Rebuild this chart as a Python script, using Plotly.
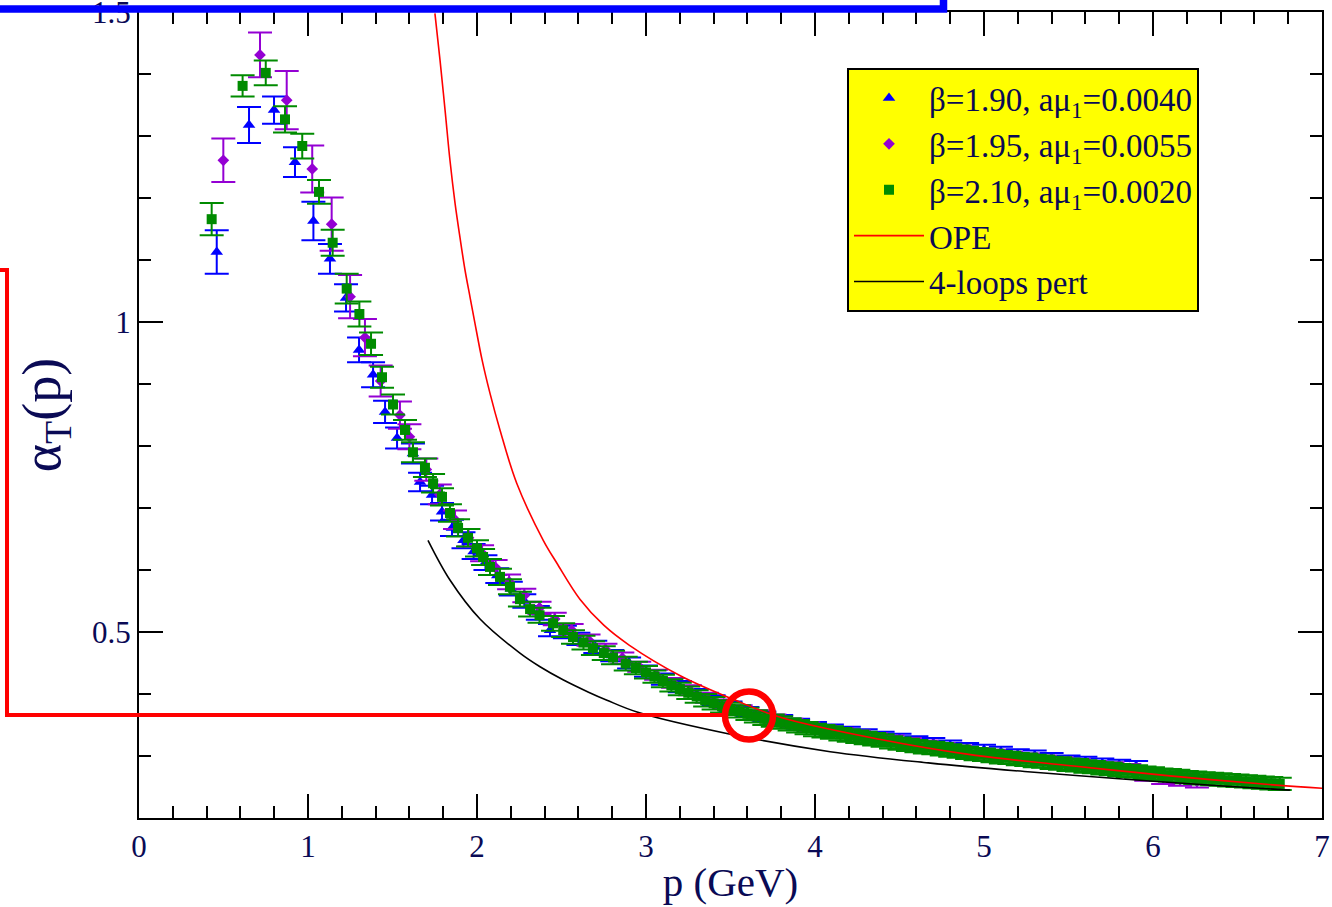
import plotly.graph_objects as go

# ---------------- data ----------------
# beta=1.90, a mu_1=0.0040 (blue triangles)
b190_p = [0.46, 0.651, 0.799, 0.923, 1.032, 1.130, 1.225, 1.302, 1.385, 1.456, 1.527, 1.621, 1.663,
          1.734, 1.793, 1.852, 1.92, 1.98, 2.05, 2.12, 2.20, 2.28, 2.36, 2.432, 2.52, 2.60, 2.70,
          2.80, 2.90, 3.00, 3.10, 3.20, 3.30, 3.40, 3.50, 3.60, 3.70, 3.80, 3.90, 4.00, 4.10, 4.20,
          4.30, 4.40, 4.50, 4.60, 4.70, 4.80, 4.90, 5.00, 5.10, 5.20, 5.30, 5.40, 5.50, 5.60, 5.70,
          5.80, 5.90]
b190_a = [1.113, 1.318, 1.342, 1.258, 1.163, 1.102, 1.039, 0.955, 0.915, 0.855, 0.813, 0.788, 0.742,
          0.721, 0.694, 0.668, 0.648, 0.630, 0.612, 0.591, 0.570, 0.550, 0.531, 0.503, 0.500, 0.489,
          0.476, 0.462, 0.450, 0.437, 0.424, 0.412, 0.400, 0.390, 0.380, 0.371, 0.364, 0.358, 0.352,
          0.347, 0.343, 0.339, 0.335, 0.331, 0.328, 0.324, 0.321, 0.317, 0.313, 0.310, 0.307, 0.303,
          0.301, 0.297, 0.293, 0.291, 0.288, 0.286, 0.284]
b190_e = [0.035, 0.029, 0.022, 0.024, 0.031, 0.024, 0.022, 0.020, 0.020, 0.018, 0.017, 0.016, 0.015,
          0.015, 0.014, 0.013, 0.013, 0.012, 0.012, 0.012, 0.011, 0.011, 0.011, 0.010, 0.010, 0.010,
          0.010, 0.009, 0.009, 0.009, 0.009, 0.009, 0.008, 0.008, 0.008, 0.008, 0.008, 0.008, 0.008,
          0.008, 0.008, 0.008, 0.008, 0.008, 0.008, 0.008, 0.008, 0.008, 0.008, 0.008, 0.008, 0.008,
          0.008, 0.008, 0.008, 0.008, 0.008, 0.008, 0.008]

# beta=1.95, a mu_1=0.0055 (violet diamonds)
b195_p = [0.499, 0.716, 0.874, 1.025, 1.140, 1.249, 1.337, 1.43, 1.544, 1.60, 1.70, 1.78, 1.87, 1.95,
          2.03, 2.11, 2.19, 2.28, 2.37, 2.46, 2.56, 2.66, 2.76, 2.86, 2.96, 3.06, 3.16, 3.26, 3.36,
          3.46, 3.56, 3.66, 3.76, 3.86, 3.96, 4.06, 4.16, 4.26, 4.36, 4.46, 4.56, 4.66, 4.76, 4.86,
          4.96, 5.06, 5.16, 5.26, 5.36, 5.46, 5.56, 5.66, 5.76, 5.86, 5.96, 6.06, 6.16, 6.26]
b195_a = [1.261, 1.431, 1.358, 1.247, 1.158, 1.041, 0.975, 0.905, 0.850, 0.815, 0.762, 0.722, 0.681,
          0.652, 0.627, 0.604, 0.581, 0.559, 0.539, 0.521, 0.503, 0.487, 0.472, 0.458, 0.444, 0.431,
          0.418, 0.406, 0.394, 0.384, 0.375, 0.367, 0.360, 0.353, 0.347, 0.342, 0.338, 0.334, 0.330,
          0.326, 0.322, 0.318, 0.314, 0.310, 0.306, 0.303, 0.300, 0.297, 0.294, 0.291, 0.288, 0.285,
          0.283, 0.280, 0.270, 0.265, 0.262, 0.259]
b195_e = [0.035, 0.036, 0.047, 0.038, 0.043, 0.035, 0.030, 0.025, 0.022, 0.020, 0.018, 0.016, 0.015,
          0.014, 0.013, 0.012, 0.012, 0.011, 0.010, 0.010, 0.010, 0.009, 0.009, 0.009, 0.008, 0.008,
          0.008, 0.008, 0.008, 0.007, 0.007, 0.007, 0.007, 0.007, 0.007, 0.007, 0.007, 0.007, 0.007,
          0.007, 0.007, 0.007, 0.007, 0.007, 0.007, 0.007, 0.007, 0.007, 0.007, 0.007, 0.007, 0.007,
          0.007, 0.007, 0.010, 0.010, 0.010, 0.010]

# beta=2.10, a mu_1=0.0020 (green squares)
b210_p = [0.43, 0.613, 0.75, 0.864, 0.966, 1.065, 1.146, 1.229, 1.304, 1.373, 1.438, 1.503, 1.574,
          1.621, 1.692, 1.740, 1.793, 1.840, 1.888, 1.947, 2.00, 2.036, 2.077, 2.136, 2.195, 2.254,
          2.314, 2.37, 2.45, 2.51, 2.568, 2.63, 2.686, 2.75, 2.805, 2.88, 2.94,
          3.00, 3.05, 3.10, 3.15, 3.20, 3.25, 3.30, 3.35, 3.40, 3.45, 3.50, 3.55, 3.60, 3.65, 3.70,
          3.75, 3.80, 3.85, 3.90, 3.95, 4.00, 4.05, 4.10, 4.15, 4.20, 4.25, 4.30, 4.35, 4.40, 4.45,
          4.50, 4.55, 4.60, 4.65, 4.70, 4.75, 4.80, 4.85, 4.90, 4.95, 5.00, 5.05, 5.10, 5.15, 5.20,
          5.25, 5.30, 5.35, 5.40, 5.45, 5.50, 5.55, 5.60, 5.65, 5.70, 5.75, 5.80, 5.85, 5.90, 5.95,
          6.00, 6.05, 6.10, 6.15, 6.20, 6.25, 6.30, 6.35, 6.40, 6.45, 6.50, 6.55, 6.60, 6.65, 6.70,
          6.75]
b210_a = [1.166, 1.381, 1.402, 1.327, 1.284, 1.210, 1.128, 1.054, 1.013, 0.965, 0.911, 0.867, 0.826,
          0.790, 0.765, 0.740, 0.718, 0.692, 0.668, 0.652, 0.635, 0.621, 0.605, 0.589, 0.573, 0.553,
          0.537, 0.527, 0.514, 0.503, 0.492, 0.483, 0.474, 0.466, 0.459, 0.449, 0.442,
          0.435, 0.428, 0.421, 0.414, 0.408, 0.402, 0.396, 0.390, 0.385, 0.380, 0.376, 0.372, 0.368,
          0.364, 0.360, 0.357, 0.354, 0.351, 0.348, 0.345, 0.342, 0.340, 0.338, 0.335, 0.333, 0.331,
          0.329, 0.327, 0.325, 0.322, 0.320, 0.318, 0.316, 0.314, 0.313, 0.311, 0.309, 0.307, 0.305,
          0.303, 0.302, 0.300, 0.298, 0.297, 0.295, 0.294, 0.292, 0.291, 0.289, 0.288, 0.286, 0.285,
          0.283, 0.282, 0.280, 0.279, 0.277, 0.276, 0.275, 0.273, 0.272, 0.270, 0.269, 0.268, 0.266,
          0.265, 0.264, 0.263, 0.262, 0.261, 0.260, 0.259, 0.258, 0.257, 0.256, 0.255]
b210_e = ([0.026, 0.017, 0.020, 0.021, 0.020, 0.019, 0.021, 0.024, 0.020, 0.018, 0.017, 0.016,
           0.016, 0.016, 0.015, 0.015, 0.014, 0.014, 0.014, 0.014, 0.013, 0.013, 0.013, 0.013,
           0.012, 0.012, 0.012, 0.012, 0.012, 0.011, 0.011, 0.011, 0.011, 0.011, 0.011, 0.011,
           0.010]
          + [0.010] * 76)

# OPE curve (red)
ope_p = [1.751, 1.781, 1.811, 1.840, 1.870, 1.899, 1.929, 1.959, 1.988, 2.030, 2.077, 2.136, 2.235,
         2.392, 2.473, 2.609, 2.75, 2.90, 3.20, 3.52, 3.80, 4.38, 4.95, 5.53, 6.10, 6.73, 7.0]
ope_a = [1.498, 1.423, 1.342, 1.261, 1.192, 1.137, 1.084, 1.040, 0.998, 0.939, 0.885, 0.826, 0.740,
         0.648, 0.611, 0.553, 0.511, 0.479, 0.430, 0.391, 0.362, 0.327, 0.301, 0.284, 0.268, 0.253,
         0.248]

# 4-loops perturbative curve (black)
pert_p = [1.71, 1.84, 2.018, 2.254, 2.373, 2.509, 2.66, 2.769, 2.947, 3.52, 4.09, 4.67, 5.24, 5.82,
          6.39, 6.81]
pert_a = [0.648, 0.584, 0.521, 0.466, 0.444, 0.423, 0.403, 0.390, 0.371, 0.334, 0.307, 0.289, 0.275,
          0.263, 0.252, 0.245]

series_names = ["β=1.90, aμ<sub>1</sub>=0.0040",
                "β=1.95, aμ<sub>1</sub>=0.0055",
                "β=2.10, aμ<sub>1</sub>=0.0020",
                "OPE",
                "4-loops pert"]

# ---------------- styling ----------------
FONT = "Liberation Serif"
TXT = "#0a0a55"
BLUE = "#0000ff"
VIOLET = "#9400d3"
GREEN = "#008b00"

# plot-area pixel box (for annotation overlay shapes)
L, R, T, B = 139, 1322, 12, 818


def px(x):
    return (x - L) / (R - L)


def py(y):
    return (B - y) / (B - T)


fig = go.Figure()


def add_points(p, a, e, name, color, symbol, size):
    fig.add_trace(go.Scatter(
        x=p, y=a, mode="markers", name=name,
        marker=dict(symbol=symbol, size=size, color=color, line=dict(width=0)),
        error_y=dict(type="data", array=e, visible=True, color=color,
                     thickness=2, width=12),
    ))


add_points(b190_p, b190_a, b190_e, series_names[0], BLUE, "triangle-up", 11)
add_points(b195_p, b195_a, b195_e, series_names[1], VIOLET, "diamond", 9)
add_points(b210_p, b210_a, b210_e, series_names[2], GREEN, "square", 10)

fig.add_trace(go.Scatter(x=ope_p, y=ope_a, mode="lines", name=series_names[3],
                         line=dict(color="#ff0000", width=1.6, shape="spline")))
fig.add_trace(go.Scatter(x=pert_p, y=pert_a, mode="lines", name=series_names[4],
                         line=dict(color="#000000", width=1.6, shape="spline")))

axis_common = dict(
    showline=True, linewidth=2, linecolor="black", mirror="allticks",
    ticks="inside", ticklen=24, tickwidth=2, tickcolor="black",
    showgrid=False, zeroline=False, ticklabeloverflow="allow",
    tickfont=dict(family=FONT, size=31, color=TXT),
)

fig.update_xaxes(
    range=[0, 7], tickmode="linear", tick0=0, dtick=1,
    minor=dict(tickmode="linear", tick0=0, dtick=0.2, ticks="inside", ticklen=12,
               tickwidth=2, tickcolor="black", showgrid=False),
    title=dict(text="p (GeV)", font=dict(family=FONT, size=41, color=TXT), standoff=4),
    **axis_common,
)
fig.update_yaxes(
    range=[0.2, 1.5002], tickmode="linear", tick0=0, dtick=0.5,
    minor=dict(tickmode="linear", tick0=0, dtick=0.1, ticks="inside", ticklen=12,
               tickwidth=2, tickcolor="black", showgrid=False),
    title=dict(text="α<sub>T</sub>(p)", font=dict(family=FONT, size=54, color=TXT), standoff=14),
    **axis_common,
)

shapes = [
    # blue frame fragment at top
    dict(type="path", xref="paper", yref="paper",
         path=f"M {px(-10)},{py(9)} L {px(943.5)},{py(9)} L {px(943.5)},{py(-10)}",
         line=dict(color="#0000ff", width=7.5), layer="above"),
    # red bracket on the left
    dict(type="path", xref="paper", yref="paper",
         path=f"M {px(-10)},{py(270)} L {px(7)},{py(270)} L {px(7)},{py(715)} L {px(723)},{py(715)}",
         line=dict(color="#ff0000", width=4), layer="above"),
    # red circle
    dict(type="circle", xref="paper", yref="paper",
         x0=px(725), x1=px(773), y0=py(739.5), y1=py(691.5),
         line=dict(color="#ff0000", width=6.5), layer="above"),
]

fig.update_layout(
    width=1332, height=907,
    margin=dict(l=L, r=1332 - R, t=T, b=907 - B, autoexpand=False),
    paper_bgcolor="white", plot_bgcolor="white",
    font=dict(family=FONT, color=TXT),
    showlegend=True,
    legend=dict(
        x=px(847), y=py(68), xanchor="left", yanchor="top",
        bgcolor="#ffff00", bordercolor="black", borderwidth=2,
        font=dict(family=FONT, size=33, color=TXT),
        tracegroupgap=0, itemwidth=70,
    ),
    shapes=shapes,
)

fig.write_html("out.html")
